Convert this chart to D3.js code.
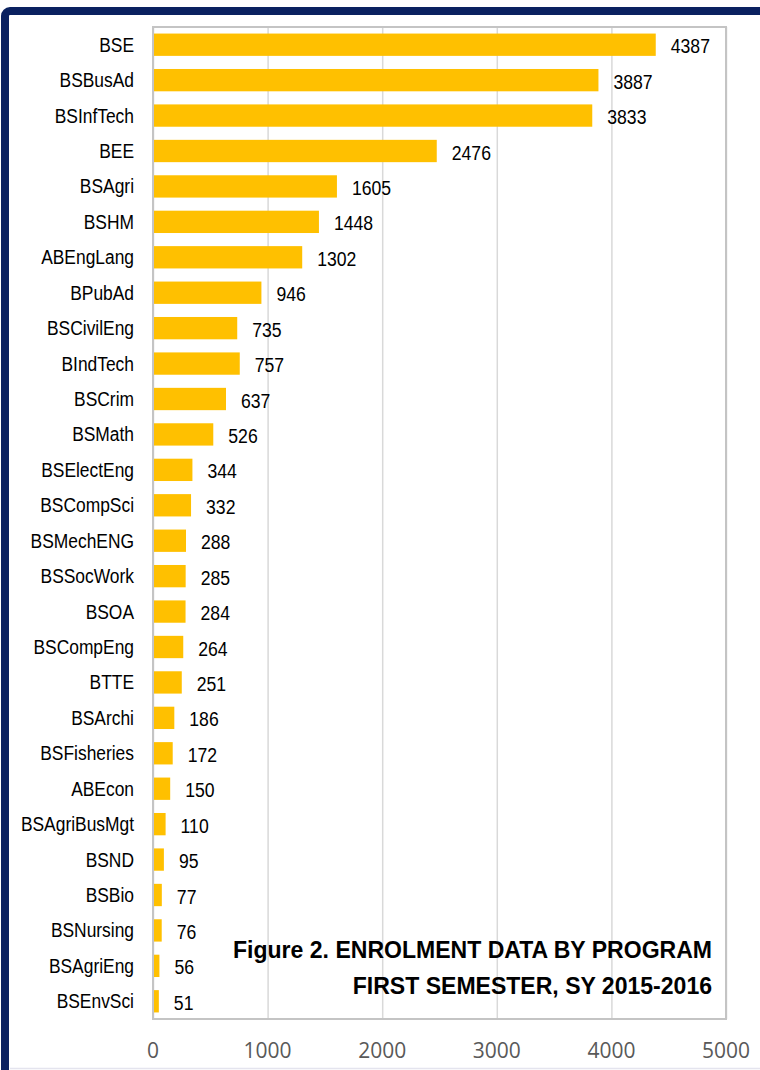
<!DOCTYPE html>
<html>
<head>
<meta charset="utf-8">
<script src="https://cdn.jsdelivr.net/npm/d3@7"></script>
<style>
  html, body { margin: 0; padding: 0; background: #fff; }
  svg { display: block; }
</style>
</head>
<body>
<script>
const programs = ['BSE', 'BSBusAd', 'BSInfTech', 'BEE', 'BSAgri', 'BSHM', 'ABEngLang', 'BPubAd',
  'BSCivilEng', 'BIndTech', 'BSCrim', 'BSMath', 'BSElectEng', 'BSCompSci', 'BSMechENG', 'BSSocWork',
  'BSOA', 'BSCompEng', 'BTTE', 'BSArchi', 'BSFisheries', 'ABEcon', 'BSAgriBusMgt', 'BSND', 'BSBio',
  'BSNursing', 'BSAgriEng', 'BSEnvSci']
const enrolment = [4387, 3887, 3833, 2476, 1605, 1448, 1302, 946, 735, 757, 637, 526, 344, 332, 288,
  285, 284, 264, 251, 186, 172, 150, 110, 95, 77, 76, 56, 51]
const xTicks = [0, 1000, 2000, 3000, 4000, 5000]
const titleLines = ['Figure 2. ENROLMENT DATA BY PROGRAM', 'FIRST SEMESTER, SY 2015-2016']

const width = 760
const height = 1070
const plot = { left: 153, right: 726, top: 27, bottom: 1019 }
// no narrow font installed, so squeeze the sans horizontally
const sans = "'Liberation Sans', Arial, sans-serif"

const svg = d3.select('body').append('svg')
  .attr('width', width)
  .attr('height', height)

// navy frame
svg.append('rect')
  .attr('x', 5).attr('y', 11)
  .attr('width', 820).attr('height', 1200)
  .attr('rx', 5)
  .attr('fill', 'none')
  .attr('stroke', '#0a2160')
  .attr('stroke-width', 8)

svg.append('line')
  .attr('x1', 10).attr('x2', width)
  .attr('y1', 1068.5).attr('y2', 1068.5)
  .attr('stroke', '#e4e4ee')
  .attr('stroke-width', 1.5)

const x = d3.scaleLinear().domain([0, 5000]).range([plot.left, plot.right])
const y = d3.scaleBand().domain(programs).range([plot.top, plot.bottom]).paddingInner(0.37).paddingOuter(0.185)

// gridlines
svg.append('g')
  .attr('transform', `translate(0, ${plot.bottom})`)
  .call(d3.axisBottom(x).tickValues(xTicks).tickSizeInner(-(plot.bottom - plot.top)).tickSizeOuter(0).tickFormat(''))
  .call(g => g.select('.domain').remove())
  .call(g => g.selectAll('line').attr('stroke', '#d9d9d9').attr('stroke-width', 1.5))

// tick labels
svg.append('g')
  .selectAll('text')
  .data(xTicks)
  .join('text')
  .attr('x', d => x(d))
  .attr('y', 1050)
  .attr('text-anchor', 'middle')
  .attr('dominant-baseline', 'central')
  .attr('font-family', "'Open Sans', 'Noto Sans', sans-serif")
  .attr('font-size', 21)
  .attr('fill', '#595959')
  .text(d => d)

// plot frame
svg.append('rect')
  .attr('x', plot.left).attr('y', plot.top)
  .attr('width', plot.right - plot.left).attr('height', plot.bottom - plot.top)
  .attr('fill', 'none')
  .attr('stroke', '#c4c4c4')
  .attr('stroke-width', 2)

// bars
svg.append('g')
  .selectAll('rect')
  .data(programs)
  .join('rect')
  .attr('x', x(0) + 1)
  .attr('y', d => y(d))
  .attr('width', (d, i) => x(enrolment[i]) - x(0) - 1)
  .attr('height', y.bandwidth())
  .attr('fill', '#ffc000')

// value labels
svg.append('g')
  .selectAll('text')
  .data(programs)
  .join('text')
  .attr('transform', (d, i) => `translate(${x(enrolment[i]) + 15}, ${y(d) + y.bandwidth() / 2 + 1}) scale(0.84, 1)`)
  .attr('dominant-baseline', 'central')
  .attr('font-family', sans)
  .attr('font-size', 21)
  .attr('fill', '#000')
  .text((d, i) => enrolment[i])

// category labels
svg.append('g')
  .selectAll('text')
  .data(programs)
  .join('text')
  .attr('transform', d => `translate(134, ${y(d) + y.bandwidth() / 2}) scale(0.87, 1)`)
  .attr('text-anchor', 'end')
  .attr('dominant-baseline', 'central')
  .attr('font-family', sans)
  .attr('font-size', 20)
  .attr('fill', '#000')
  .text(d => d)

// title
svg.append('g')
  .selectAll('text')
  .data(titleLines)
  .join('text')
  .attr('transform', (d, i) => `translate(712, ${958 + i * 36}) scale(0.96, 1)`)
  .attr('text-anchor', 'end')
  .attr('font-family', sans)
  .attr('font-weight', 'bold')
  .attr('font-size', 24)
  .attr('fill', '#000')
  .text(d => d)
</script>
</body>
</html>
